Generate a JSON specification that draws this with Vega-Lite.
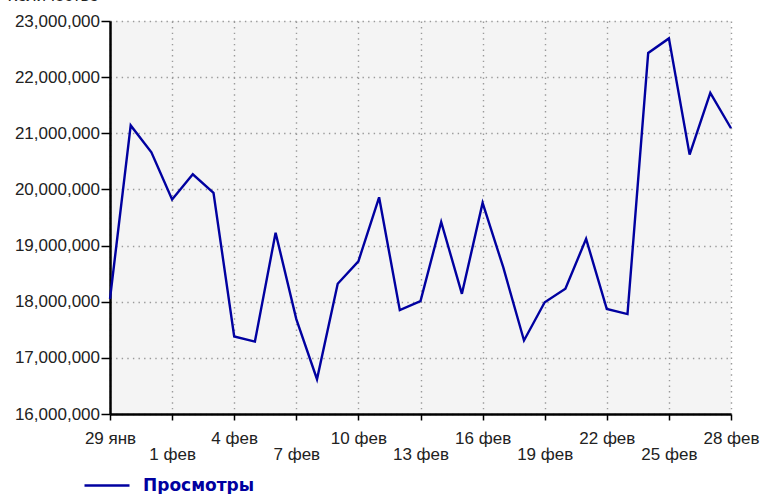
{
  "$schema": "https://vega.github.io/schema/vega-lite/v6.json",
  "autosize": {"type": "none"},
  "width": 621,
  "height": 393,
  "padding": {"left": 110, "top": 21, "right": 30, "bottom": 80},
  "background": "#ffffff",
  "config": {
    "view": {"fill": "#f4f4f4", "stroke": null},
    "font": "Liberation Sans"
  },
  "data": {
    "values": [
      {"date": "2013-01-29", "views": 18050000, "series": "Просмотры"},
      {"date": "2013-01-30", "views": 21140000, "series": "Просмотры"},
      {"date": "2013-01-31", "views": 20660000, "series": "Просмотры"},
      {"date": "2013-02-01", "views": 19820000, "series": "Просмотры"},
      {"date": "2013-02-02", "views": 20270000, "series": "Просмотры"},
      {"date": "2013-02-03", "views": 19940000, "series": "Просмотры"},
      {"date": "2013-02-04", "views": 17380000, "series": "Просмотры"},
      {"date": "2013-02-05", "views": 17290000, "series": "Просмотры"},
      {"date": "2013-02-06", "views": 19230000, "series": "Просмотры"},
      {"date": "2013-02-07", "views": 17690000, "series": "Просмотры"},
      {"date": "2013-02-08", "views": 16620000, "series": "Просмотры"},
      {"date": "2013-02-09", "views": 18320000, "series": "Просмотры"},
      {"date": "2013-02-10", "views": 18720000, "series": "Просмотры"},
      {"date": "2013-02-11", "views": 19860000, "series": "Просмотры"},
      {"date": "2013-02-12", "views": 17850000, "series": "Просмотры"},
      {"date": "2013-02-13", "views": 18010000, "series": "Просмотры"},
      {"date": "2013-02-14", "views": 19420000, "series": "Просмотры"},
      {"date": "2013-02-15", "views": 18140000, "series": "Просмотры"},
      {"date": "2013-02-16", "views": 19760000, "series": "Просмотры"},
      {"date": "2013-02-17", "views": 18610000, "series": "Просмотры"},
      {"date": "2013-02-18", "views": 17310000, "series": "Просмотры"},
      {"date": "2013-02-19", "views": 17990000, "series": "Просмотры"},
      {"date": "2013-02-20", "views": 18230000, "series": "Просмотры"},
      {"date": "2013-02-21", "views": 19120000, "series": "Просмотры"},
      {"date": "2013-02-22", "views": 17870000, "series": "Просмотры"},
      {"date": "2013-02-23", "views": 17780000, "series": "Просмотры"},
      {"date": "2013-02-24", "views": 22430000, "series": "Просмотры"},
      {"date": "2013-02-25", "views": 22690000, "series": "Просмотры"},
      {"date": "2013-02-26", "views": 20620000, "series": "Просмотры"},
      {"date": "2013-02-27", "views": 21720000, "series": "Просмотры"},
      {"date": "2013-02-28", "views": 21090000, "series": "Просмотры"}
    ]
  },
  "mark": {"type": "line", "strokeWidth": 2.4, "strokeJoin": "miter", "clip": false},
  "encoding": {
    "x": {
      "field": "date",
      "type": "temporal",
      "scale": {"type": "utc", "domain": [1359417600000, 1362009600000], "nice": false},
      "axis": {
        "title": null,
        "values": [1359417600000, 1359676800000, 1359936000000, 1360195200000, 1360454400000, 1360713600000, 1360972800000, 1361232000000, 1361491200000, 1361750400000, 1362009600000],
        "labelExpr": "utcdate(datum.value) + ' ' + (utcmonth(datum.value) == 0 ? 'янв' : 'фев')",
        "labelFlush": false,
        "labelOverlap": false,
        "labelBound": false,
        "labelFont": "Liberation Sans",
        "labelFontSize": 17,
        "labelColor": "#222222",
        "labelAlign": "center",
        "labelBaseline": "top",
        "labelPadding": {"condition": {"test": "round((datum.value - 1359417600000) / 86400000) % 6 == 3", "value": 26.5}, "value": 10.5},
        "tickSize": 6,
        "tickColor": "#000000",
        "tickWidth": 1.5,
        "domainColor": "#000000",
        "domainWidth": 2.5,
        "grid": true,
        "gridColor": "#9a9a9a",
        "gridDash": [1.4, 4.2],
        "gridWidth": 1.4
      }
    },
    "y": {
      "field": "views",
      "type": "quantitative",
      "scale": {"domain": [16000000, 23000000], "nice": false, "zero": false},
      "axis": {
        "title": "Количество",
        "titleAngle": 0,
        "titleAlign": "left",
        "titleBaseline": "alphabetic",
        "titleX": -103,
        "titleY": -21,
        "titleFont": "Liberation Sans",
        "titleFontSize": 17,
        "titleFontWeight": "normal",
        "titleColor": "#222222",
        "values": [16000000, 17000000, 18000000, 19000000, 20000000, 21000000, 22000000, 23000000],
        "format": ",d",
        "labelFont": "Liberation Sans",
        "labelFontSize": 17,
        "labelColor": "#222222",
        "labelPadding": 1.5,
        "labelOverlap": false,
        "labelBound": false,
        "tickSize": 9,
        "tickColor": "#000000",
        "tickWidth": 1.5,
        "domainColor": "#000000",
        "domainWidth": 2.5,
        "grid": true,
        "gridColor": "#9a9a9a",
        "gridDash": [1.4, 4.2],
        "gridWidth": 1.4
      }
    },
    "color": {
      "field": "series",
      "type": "nominal",
      "scale": {"range": ["#0000a0"]},
      "legend": {
        "title": null,
        "orient": "none",
        "legendX": -27,
        "legendY": 440.5,
        "padding": 0,
        "symbolType": "stroke",
        "symbolSize": 2025,
        "symbolStrokeWidth": 2.5,
        "symbolStrokeColor": "#0000a0",
        "labelFont": "DejaVu Sans",
        "labelFontSize": 17,
        "labelFontWeight": "bold",
        "labelColor": "#0000a0",
        "labelOffset": 12
      }
    }
  }
}
